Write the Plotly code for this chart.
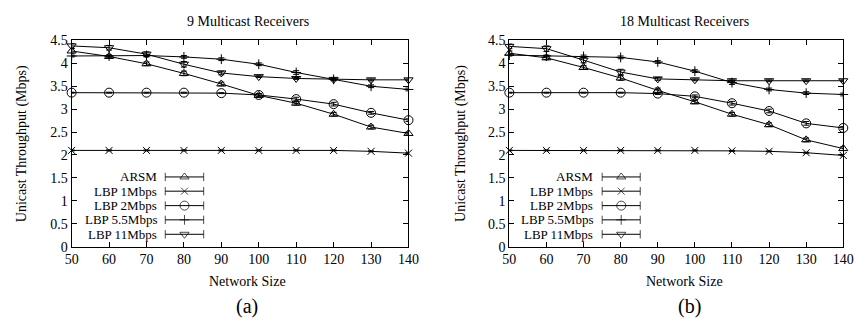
import plotly.graph_objects as go

network_size = [50, 60, 70, 80, 90, 100, 110, 120, 130, 140]
x_ticks = [50, 60, 70, 80, 90, 100, 110, 120, 130, 140]
y_ticks = [0, 0.5, 1, 1.5, 2, 2.5, 3, 3.5, 4, 4.5]

series_names = ["ARSM", "LBP 1Mbps", "LBP 2Mbps", "LBP 5.5Mbps", "LBP 11Mbps"]

# (a) 9 multicast receivers
arsm_a = [4.27, 4.15, 3.99, 3.78, 3.55, 3.30, 3.13, 2.89, 2.61, 2.47]
lbp1_a = [2.10, 2.10, 2.10, 2.10, 2.10, 2.10, 2.10, 2.10, 2.08, 2.04]
lbp2_a = [3.36, 3.36, 3.36, 3.36, 3.35, 3.31, 3.22, 3.11, 2.92, 2.76]
lbp55_a = [4.16, 4.16, 4.17, 4.14, 4.09, 3.98, 3.80, 3.65, 3.50, 3.43]
lbp11_a = [4.38, 4.34, 4.20, 3.98, 3.79, 3.71, 3.67, 3.65, 3.64, 3.64]

arsm_a_err = [0.05, 0.03, 0.04, 0.05, 0.04, 0.04, 0.04, 0.04, 0.04, 0.03]
lbp1_a_err = [0.01, 0.01, 0.01, 0.01, 0.01, 0.01, 0.01, 0.01, 0.01, 0.01]
lbp2_a_err = [0.01, 0.01, 0.01, 0.01, 0.01, 0.03, 0.04, 0.04, 0.03, 0.03]
lbp55_a_err = [0.02, 0.02, 0.03, 0.03, 0.03, 0.03, 0.04, 0.03, 0.03, 0.03]
lbp11_a_err = [0.05, 0.05, 0.05, 0.06, 0.04, 0.02, 0.02, 0.02, 0.02, 0.02]

# (b) 18 multicast receivers
arsm_b = [4.22, 4.12, 3.91, 3.68, 3.41, 3.16, 2.89, 2.66, 2.33, 2.14]
lbp1_b = [2.10, 2.10, 2.10, 2.10, 2.10, 2.10, 2.09, 2.08, 2.05, 1.99]
lbp2_b = [3.36, 3.36, 3.36, 3.36, 3.34, 3.28, 3.13, 2.96, 2.69, 2.59]
lbp55_b = [4.18, 4.16, 4.15, 4.13, 4.03, 3.83, 3.58, 3.43, 3.35, 3.32]
lbp11_b = [4.37, 4.32, 4.07, 3.81, 3.66, 3.64, 3.62, 3.62, 3.62, 3.62]

arsm_b_err = [0.05, 0.04, 0.04, 0.05, 0.05, 0.04, 0.04, 0.04, 0.04, 0.04]
lbp1_b_err = [0.01, 0.01, 0.01, 0.01, 0.01, 0.01, 0.01, 0.01, 0.01, 0.01]
lbp2_b_err = [0.01, 0.01, 0.01, 0.01, 0.02, 0.03, 0.04, 0.04, 0.04, 0.03]
lbp55_b_err = [0.02, 0.02, 0.03, 0.03, 0.03, 0.03, 0.04, 0.03, 0.03, 0.03]
lbp11_b_err = [0.05, 0.06, 0.06, 0.06, 0.03, 0.02, 0.02, 0.02, 0.02, 0.02]

symbols = ["triangle-up-open", "x-thin-open", "circle-open", "cross-thin-open", "triangle-down-open"]
sizes = [8, 7, 9, 7, 8]

panel_a = [(arsm_a, arsm_a_err), (lbp1_a, lbp1_a_err), (lbp2_a, lbp2_a_err),
           (lbp55_a, lbp55_a_err), (lbp11_a, lbp11_a_err)]
panel_b = [(arsm_b, arsm_b_err), (lbp1_b, lbp1_b_err), (lbp2_b, lbp2_b_err),
           (lbp55_b, lbp55_b_err), (lbp11_b, lbp11_b_err)]

FONT = "Liberation Serif, Times New Roman, serif"
fig = go.Figure()

for panel, xa, ya in [(panel_a, "x", "y"), (panel_b, "x2", "y2")]:
    for i, (vals, errs) in enumerate(panel):
        fig.add_trace(go.Scatter(
            x=network_size, y=vals, xaxis=xa, yaxis=ya,
            mode="lines+markers", name=series_names[i], showlegend=False,
            line=dict(color="black", width=1),
            marker=dict(symbol=symbols[i], size=sizes[i], color="black",
                        line=dict(color="black", width=1)),
            error_y=dict(type="data", array=errs, visible=True, color="black",
                         thickness=1, width=3),
            cliponaxis=False,
        ))

# legend keys (gnuplot style: text left, key sample right)
legend_rows = [0.338, 0.269, 0.199, 0.130, 0.060]
for xa, ya in [("x3", "y3"), ("x4", "y4")]:
    for i, name in enumerate(series_names):
        r = legend_rows[i]
        fig.add_trace(go.Scatter(
            x=[0.278, 0.335, 0.392], y=[r, r, r], xaxis=xa, yaxis=ya,
            mode="lines+markers", showlegend=False, hoverinfo="skip",
            line=dict(color="black", width=1),
            marker=dict(symbol=["line-ns", symbols[i], "line-ns"],
                        size=[6, sizes[i], 6], color="black",
                        line=dict(color="black", width=1)),
            cliponaxis=False,
        ))
        fig.add_annotation(x=0.255, y=r, xref=xa, yref=ya, text=name,
                           showarrow=False, xanchor="right", yanchor="middle",
                           borderpad=0,
                           font=dict(family=FONT, size=13, color="black"))

ydom = [1 - 251 / 332, 1 - 35 / 332]
xdom1 = [66 / 867, 410 / 867]
xdom2 = [513 / 867, 854 / 867]

axis_common = dict(showline=True, linecolor="black", linewidth=1, mirror="allticks",
                   ticks="inside", ticklen=5, tickcolor="black", showgrid=False,
                   zeroline=False, tickfont=dict(family=FONT, size=14, color="black"))

fig.update_layout(
    width=867, height=332, margin=dict(l=0, r=0, t=0, b=0),
    paper_bgcolor="white", plot_bgcolor="white",
    xaxis=dict(domain=xdom1, range=[50, 140], tickvals=x_ticks, anchor="y", **axis_common),
    yaxis=dict(domain=ydom, range=[0, 4.5], tickvals=y_ticks, anchor="x", **axis_common),
    xaxis2=dict(domain=xdom2, range=[50, 140], tickvals=x_ticks, anchor="y2", **axis_common),
    yaxis2=dict(domain=ydom, range=[0, 4.5], tickvals=y_ticks, anchor="x2", **axis_common),
    xaxis3=dict(overlaying="x", range=[0, 1], visible=False, anchor="y3"),
    yaxis3=dict(overlaying="y", range=[0, 1], visible=False, anchor="x3"),
    xaxis4=dict(overlaying="x2", range=[0, 1], visible=False, anchor="y4"),
    yaxis4=dict(overlaying="y2", range=[0, 1], visible=False, anchor="x4"),
)

texts = [
    ("9 Multicast Receivers", 246, 15, 14, 0),
    ("18 Multicast Receivers", 692, 15, 14, 0),
    ("Network Size", 246, 288, 14, 0),
    ("Network Size", 692, 288, 14, 0),
    ("(a)", 245, 314, 20, 0),
    ("(b)", 697, 314, 20, 0),
    ("Unicast Throughput (Mbps)", 15, 143, 14, -90),
    ("Unicast Throughput (Mbps)", 463, 143, 14, -90),
]
for t, px, py, fs, ang in texts:
    fig.add_annotation(x=px / 867, y=1 - py / 332, xref="paper", yref="paper", text=t,
                       showarrow=False, xanchor="center", yanchor="middle", textangle=ang,
                       font=dict(family=FONT, size=fs, color="black"))

fig.write_html("out.html")
